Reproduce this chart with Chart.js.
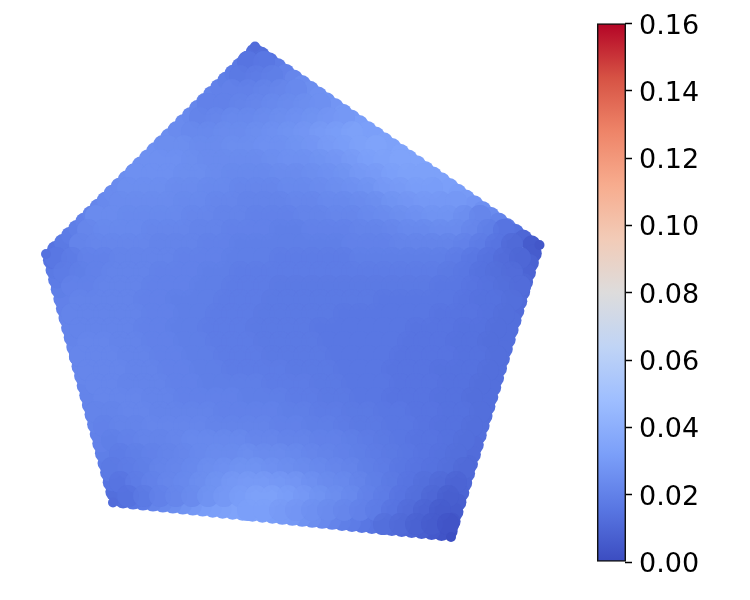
<!DOCTYPE html>
<html>
<head>
<meta charset="utf-8">
<style>
  html, body { margin: 0; background: #fff; }
  canvas { display: block; }
</style>
<script src="https://cdn.jsdelivr.net/npm/chart.js@4/dist/chart.umd.min.js"></script>
</head>
<body>
<canvas id="chart" width="750" height="600"></canvas>
<script>
// colorbar
const colorbarTicks = [0, 0.02, 0.04, 0.06, 0.08, 0.10, 0.12, 0.14, 0.16];
const colorbarMax = 0.16;

// coolwarm colormap, 0.1 steps
const coolwarm = ["#3b4cc0", "#5977e3", "#7b9ff9", "#9ebeff", "#c0d4f5", "#dddcdc", "#f2cbb7", "#f7ac8e", "#ee8468", "#d65244", "#b40426"];

// pentagon corners (values in thousandths)
const cornerX = [255, 539.5, 451, 113, 46];
const cornerY = [46.5, 245, 537, 502.5, 254];
const cornerV = [12, 4, 1, 12, 14];

// points along the outline, going clockwise from the top
const rimX = [
  260.9,269.1,277.3,285.5,293.7,301.9,310.1,318.3,326.5,334.7,342.9,351.1,359.3,367.5,375.7,383.9,392.1,400.3,408.5,416.7,424.9,433.1,441.3,449.5,457.7,465.9,474.1,482.3,490.5,498.7,506.9,515.1,523.3,531.5,
  532.8,529.9,527,524.1,521.2,518.3,515.4,512.5,509.6,506.7,503.8,500.9,498,495.1,492.2,489.3,486.4,483.5,480.6,477.7,474.8,471.9,469,466.1,463.2,460.3,457.4,454.5,451.6,448.7,
  441.5,431.6,421.6,411.7,401.7,391.8,381.8,371.9,361.9,352,342,332.1,322.1,312.2,302.2,292.3,282.3,272.4,262.4,252.5,242.5,232.6,222.6,212.7,202.7,192.8,182.8,172.9,162.9,153,143,133.1,123.1,
  114.3,111.7,109.1,106.5,103.9,101.3,98.7,96.1,93.5,90.9,88.3,85.7,83.1,80.5,77.9,75.3,72.7,70.1,67.5,64.9,62.3,59.7,57.1,54.5,51.9,
  55.9,63,70.1,77.2,84.3,91.4,98.5,105.6,112.7,119.8,126.9,134,141.1,148.2,155.3,162.4,169.5,176.6,183.7,190.8,197.9,205,212.1,219.2,226.3,233.4,240.5,247.6,254.7
];
const rimY = [
  55.5,61.2,66.9,72.7,78.4,84.1,89.8,95.5,101.3,107,112.7,118.4,124.1,129.9,135.6,141.3,147,152.7,158.5,164.2,169.9,175.6,181.3,187.1,192.8,198.5,204.2,209.9,215.7,221.4,227.1,232.8,238.5,244.3,
  253.4,263,272.5,282.1,291.7,301.3,310.8,320.4,330,339.5,349.1,358.7,368.2,377.8,387.4,396.9,406.5,416.1,425.7,435.2,444.8,454.4,463.9,473.5,483.1,492.7,502.2,511.8,521.4,530.9,
  532,531,530,529,527.9,526.9,525.9,524.9,523.9,522.9,521.9,520.8,519.8,518.8,517.8,516.8,515.8,514.7,513.7,512.7,511.7,510.7,509.7,508.7,507.6,506.6,505.6,504.6,503.6,502.6,501.6,500.6,499.5,
  491.8,482.2,472.5,462.9,453.2,443.6,433.9,424.3,414.6,405,395.3,385.7,376,366.4,356.7,347.1,337.4,327.8,318.1,308.5,298.8,289.2,279.5,269.9,260.2,
  249.8,242.8,235.7,228.7,221.6,214.6,207.5,200.5,193.4,186.4,179.3,172.3,165.2,158.2,151.1,144.1,137,130,122.9,115.9,108.8,101.8,94.7,87.7,80.6,73.6,66.5,59.5,52.4
];
const rimV = [
  13,15,18,20,22,24,25,26,27,28,29,30,31,32,32,33,33,34,34,34,34,33,33,32,31,30,28,26,24,21,18,14,10,6,
  6,8,9,10,11,12,12,13,13,13,13,13,13,13,13,13,13,13,13,13,12,12,11,11,10,9,7,6,4,2,
  3,5,7,9,10,12,13,15,16,18,19,21,23,25,27,29,30,31,32,33,34,34,33,32,31,29,27,25,23,21,18,16,13,
  13,15,17,18,19,20,20,21,21,21,21,21,22,22,22,22,21,21,21,20,20,19,18,17,15,
  15,17,18,19,20,21,22,23,24,24,25,25,26,26,26,25,25,24,24,23,22,22,21,20,19,18,17,15,13
];

// interior points, one row per y, x starts at fieldStart and goes up by fieldStep
const fieldStep = 16;
const fieldY = [62,76,90,104,118,132,146,160,174,188,202,216,230,244,258,272,286,300,314,328,342,356,370,384,398,412,426,440,454,468,482,496,510,524];
const fieldStart = [248,240,232,208,200,192,168,160,136,128,120,96,88,80,56,64,72,80,72,80,88,80,88,96,104,96,104,112,120,112,120,128,248,384];
const fieldV = [
  [15,16],
  [17,18,19],
  [20,20,21,22,23],
  [20,20,21,22,23,24,25,26],
  [21,22,23,23,24,25,26,27,28,29],
  [23,23,24,24,25,26,27,28,30,31,33],
  [25,25,24,24,25,25,26,26,27,28,30,31,33,34],
  [26,26,25,24,24,24,24,25,26,26,27,28,30,32,33,34],
  [26,26,26,25,25,24,23,23,23,24,24,25,26,27,29,30,32,33,33],
  [25,25,25,24,24,23,23,22,22,22,23,23,24,25,26,27,29,30,31,31],
  [24,24,24,24,23,23,22,22,21,21,21,22,22,23,23,24,25,27,28,29,29,29],
  [24,24,23,23,23,23,22,22,21,21,20,20,20,21,21,22,22,23,24,25,26,27,27,25,22],
  [22,23,23,23,22,22,22,21,21,20,20,20,19,19,20,20,20,21,21,22,23,23,24,24,22,19,15],
  [21,22,22,22,22,21,21,21,20,20,19,19,19,19,19,19,19,20,20,20,21,21,21,21,20,18,15,11],
  [16,18,20,20,21,21,21,21,20,20,20,19,19,19,18,18,18,18,18,19,19,19,19,19,19,18,16,14,12,10],
  [18,19,20,21,21,21,20,20,20,19,19,18,18,18,18,18,18,18,18,18,18,18,18,18,17,16,14,13,12],
  [20,20,21,21,21,20,20,20,19,19,18,18,18,17,17,17,17,17,17,17,17,17,17,16,16,15,14,13,12],
  [21,21,21,21,20,20,19,19,19,18,18,18,17,17,17,17,17,17,17,16,16,16,16,16,15,14,14,13],
  [21,21,21,21,21,20,20,19,19,18,18,18,17,17,17,17,17,16,16,16,16,16,16,15,15,15,14,13],
  [21,21,21,21,20,20,19,19,18,18,18,17,17,17,17,16,16,16,16,16,16,15,15,15,14,14,13],
  [22,22,21,21,20,20,19,19,18,18,18,17,17,17,17,16,16,16,16,16,15,15,15,14,14,13],
  [22,22,22,21,21,20,20,19,19,18,18,18,17,17,17,17,16,16,16,16,15,15,15,15,14,14,13],
  [22,22,22,21,21,20,20,19,19,18,18,18,18,17,17,17,16,16,16,15,15,15,14,14,14,13],
  [22,22,21,21,21,20,20,19,19,19,19,18,18,18,17,17,16,16,16,15,15,15,14,14,13],
  [22,22,22,21,21,20,20,20,20,19,19,19,18,18,17,17,16,16,15,15,15,14,14,13],
  [21,21,22,22,21,21,21,21,20,20,20,20,19,19,18,18,17,17,16,16,15,15,14,14,13],
  [20,21,21,22,22,22,22,21,21,21,21,20,20,19,19,18,17,17,16,16,15,14,14,13],
  [19,20,21,21,22,23,23,23,23,22,22,21,21,20,20,19,18,17,16,15,15,14,13],
  [18,19,20,21,22,23,24,24,25,24,24,23,22,21,20,19,18,17,16,15,14,13],
  [17,18,19,21,22,23,25,26,27,27,26,25,24,23,22,21,19,18,16,15,14,13,11],
  [15,18,20,22,23,25,27,29,30,30,29,28,26,24,23,21,19,17,15,13,11,9],
  [14,17,20,22,24,27,29,31,33,33,31,29,27,25,23,20,18,15,13,10,7],
  [32,32,30,28,26,24,22,20,18,15,12,9,6],
  [13,11,8,6,3]
];

function hexToRgb(h) {
  return [parseInt(h.slice(1, 3), 16), parseInt(h.slice(3, 5), 16), parseInt(h.slice(5, 7), 16)];
}

// value (thousandths) -> colour
function valueColor(v, alpha = 1) {
  const t = Math.min(v / 1000 / colorbarMax, 1) * (coolwarm.length - 1);
  const i = Math.min(Math.floor(t), coolwarm.length - 2);
  const a = hexToRgb(coolwarm[i]), b = hexToRgb(coolwarm[i + 1]);
  const c = a.map((p, k) => Math.round(p + (b[k] - p) * (t - i)));
  return `rgba(${c[0]},${c[1]},${c[2]},${alpha})`;
}

const fieldPoints = [];
const fieldValues = [];
fieldV.forEach((row, r) => {
  row.forEach((v, i) => {
    fieldPoints.push({ x: fieldStart[r] + i * fieldStep, y: fieldY[r] });
    fieldValues.push(v);
  });
});

function scatterSet(points, colors, radius, order) {
  return {
    type: "scatter", data: points, backgroundColor: colors, borderWidth: 0,
    pointRadius: radius, pointHoverRadius: radius, order: order, clip: false
  };
}

new Chart(document.getElementById("chart"), {
  data: {
    datasets: [
      scatterSet(rimX.map((x, i) => ({ x: x, y: rimY[i] })), rimV.map((v) => valueColor(v)), 9, 5),
      scatterSet(fieldPoints, fieldValues.map((v) => valueColor(v)), 11, 4),
      // second see-through pass softens the disc edges
      scatterSet(fieldPoints, fieldValues.map((v) => valueColor(v, 0.5)), 11, 3),
      scatterSet(cornerX.map((x, i) => ({ x: x, y: cornerY[i] })), cornerV.map((v) => valueColor(v)), 5, 2),
      {
        type: "bar",
        yAxisID: "y2",
        data: [{ x: 611.5, y: [0, colorbarMax] }],
        barThickness: 28.5,
        borderColor: "#111",
        borderWidth: 1.5,
        borderSkipped: false,
        order: 1,
        clip: false,
        backgroundColor: (ctx) => {
          const area = ctx.chart.chartArea;
          if (!area) return coolwarm[0];
          const g = ctx.chart.ctx.createLinearGradient(0, area.bottom, 0, area.top);
          coolwarm.forEach((c, i) => g.addColorStop(i / (coolwarm.length - 1), c));
          return g;
        }
      }
    ]
  },
  options: {
    responsive: false,
    animation: false,
    layout: { padding: { left: 0, right: 0, top: 23.5, bottom: 38 } },
    plugins: { legend: { display: false }, tooltip: { enabled: false } },
    scales: {
      x: { type: "linear", min: 11, max: 625, display: false, offset: false },
      y: { type: "linear", min: 23.5, max: 562, reverse: true, display: false },
      y2: {
        type: "linear",
        position: "right",
        min: 0,
        max: colorbarMax,
        afterFit: (s) => { s.width = 125; },
        afterBuildTicks: (s) => { s.ticks = colorbarTicks.map((v) => ({ value: v })); },
        border: { display: false },
        grid: { drawOnChartArea: false, drawTicks: true, tickLength: 7, tickWidth: 1.5, tickColor: "#000" },
        ticks: {
          padding: 7,
          labelOffset: 3,
          color: "#000",
          autoSkip: false,
          font: { family: "DejaVu Sans", size: 27 },
          callback: (v) => v.toFixed(2)
        }
      }
    }
  }
});
</script>
</body>
</html>
